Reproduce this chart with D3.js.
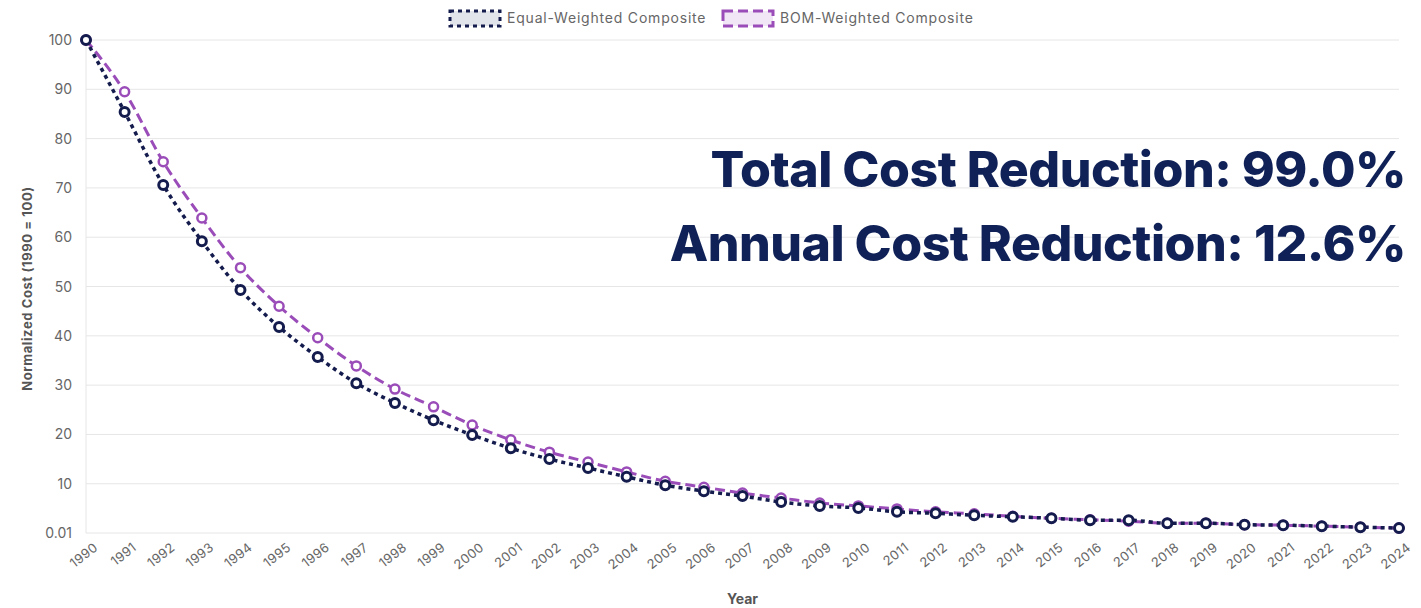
<!DOCTYPE html>
<html>
<head>
<meta charset="utf-8">
<script src="https://cdn.jsdelivr.net/npm/d3@7"></script>
<style>
  body { margin: 0; background: #fff; }
  text { font-family: Inter, "Open Sans", sans-serif; }
</style>
</head>
<body>
<svg id="chart" width="1421" height="608"></svg>
<script>
// data
let years = d3.range(1990, 2025);
let equalWeighted = [100, 85.4, 70.6, 59.2, 49.3, 41.8, 35.7, 30.4, 26.4, 22.9, 19.9, 17.2, 15.0, 13.2, 11.4,
  9.7, 8.5, 7.5, 6.3, 5.5, 5.1, 4.3, 4.0, 3.6, 3.3, 3.0, 2.6, 2.6, 2.0, 2.0, 1.7, 1.6, 1.4, 1.2, 1.0];
let bomWeighted = [100, 89.5, 75.3, 63.9, 53.8, 46.0, 39.6, 33.9, 29.2, 25.6, 21.9, 18.9, 16.4, 14.4, 12.4,
  10.5, 9.3, 8.1, 7.1, 6.1, 5.5, 4.9, 4.3, 3.9, 3.4, 3.0, 2.7, 2.4, 2.0, 2.0, 1.7, 1.6, 1.4, 1.2, 1.0];
let yTicks = [0.01, 10, 20, 30, 40, 50, 60, 70, 80, 90, 100];
let seriesNames = ["Equal-Weighted Composite", "BOM-Weighted Composite"];
let annotations = ["Total Cost Reduction: 99.0%", "Annual Cost Reduction: 12.6%"];

let navy = "#141b4d";
let purple = "#9a4cb8";

let svg = d3.select("#chart");
let mLeft = 86, mRight = 1399, mTop = 40, mBottom = 533;

let x = d3.scaleLinear().domain([1990, 2024]).range([mLeft, mRight]);
let y = d3.scaleLinear().domain([0.01, 100]).range([mBottom, mTop]);

// gridlines
svg.append("g")
  .selectAll("line")
  .data(yTicks)
  .join("line")
  .attr("x1", mLeft)
  .attr("x2", mRight)
  .attr("y1", d => y(d))
  .attr("y2", d => y(d))
  .attr("stroke", "#e6e6e6")
  .attr("stroke-width", 1);

svg.append("line")
  .attr("x1", mLeft).attr("x2", mLeft)
  .attr("y1", mTop).attr("y2", mBottom)
  .attr("stroke", "#e6e6e6");

// y axis
let yAxis = svg.append("g")
  .attr("transform", `translate(${mLeft},0)`)
  .call(d3.axisLeft(y).tickValues(yTicks).tickFormat(d => d).tickSize(0).tickPadding(14));
yAxis.select(".domain").remove();
yAxis.selectAll("text")
  .attr("fill", "#666")
  .style("font-size", "14px");

// x axis
let xAxis = svg.append("g")
  .attr("transform", `translate(0,${mBottom})`)
  .call(d3.axisBottom(x).tickValues(years).tickFormat(d3.format("d")).tickSize(0));
xAxis.select(".domain").remove();
xAxis.selectAll("text")
  .attr("fill", "#666")
  .style("font-size", "13px")
  .style("letter-spacing", "0.3px")
  .style("text-anchor", "end")
  .attr("dx", "0.3em")
  .attr("dy", "0.9em")
  .attr("transform", "translate(0,7) rotate(-38)");

// axis titles
svg.append("text")
  .attr("transform", `translate(32,${(mTop + mBottom) / 2 + 2}) rotate(-90)`)
  .attr("text-anchor", "middle")
  .attr("fill", "#555")
  .style("font-size", "13px")
  .style("letter-spacing", "0.6px")
  .style("font-weight", "700")
  .text("Normalized Cost (1990 = 100)");

svg.append("text")
  .attr("x", (mLeft + mRight) / 2)
  .attr("y", 604)
  .attr("text-anchor", "middle")
  .attr("fill", "#555")
  .style("font-size", "14px")
  .style("font-weight", "700")
  .text("Year");

// annotation text
svg.selectAll(".annot")
  .data(annotations)
  .join("text")
  .attr("class", "annot")
  .attr("x", 1406)
  .attr("y", (d, i) => 187 + i * 74)
  .attr("text-anchor", "end")
  .attr("fill", "#0f2157")
  .style("font-size", "50px")
  .style("font-weight", "800")
  .style("letter-spacing", "-0.5px")
  .text(d => d);

// lines
let line = d3.line()
  .x((d, i) => x(years[i]))
  .y(d => y(d))
  .curve(d3.curveMonotoneX);

svg.append("path")
  .datum(bomWeighted)
  .attr("d", line)
  .attr("fill", "none")
  .attr("stroke", purple)
  .attr("stroke-width", 3)
  .attr("stroke-dasharray", "10,5");

svg.append("path")
  .datum(equalWeighted)
  .attr("d", line)
  .attr("fill", "none")
  .attr("stroke", navy)
  .attr("stroke-width", 3.5)
  .attr("stroke-dasharray", "4,4");

svg.append("g")
  .selectAll("circle")
  .data(bomWeighted)
  .join("circle")
  .attr("cx", (d, i) => x(years[i]))
  .attr("cy", d => y(d))
  .attr("r", 4.5)
  .attr("fill", "#fff")
  .attr("stroke", purple)
  .attr("stroke-width", 2.5);

svg.append("g")
  .selectAll("circle")
  .data(equalWeighted)
  .join("circle")
  .attr("cx", (d, i) => x(years[i]))
  .attr("cy", d => y(d))
  .attr("r", 4.5)
  .attr("fill", "#fff")
  .attr("stroke", navy)
  .attr("stroke-width", 3);

// legend
let legendItems = [
  { name: seriesNames[0], x: 450, stroke: navy, fill: "#e2e4ec", dash: "4,4" },
  { name: seriesNames[1], x: 723, stroke: purple, fill: "#f1e6f5", dash: "10,5" }
];
let legend = svg.append("g")
  .selectAll("g")
  .data(legendItems)
  .join("g")
  .attr("transform", d => `translate(${d.x},11)`);

legend.append("rect")
  .attr("width", 50)
  .attr("height", 15)
  .attr("fill", d => d.fill)
  .attr("stroke", d => d.stroke)
  .attr("stroke-width", 3)
  .attr("stroke-dasharray", d => d.dash);

legend.append("text")
  .attr("x", 57)
  .attr("y", 12)
  .attr("fill", "#666")
  .style("font-size", "14px")
  .style("letter-spacing", "0.8px")
  .text(d => d.name);
</script>
</body>
</html>
